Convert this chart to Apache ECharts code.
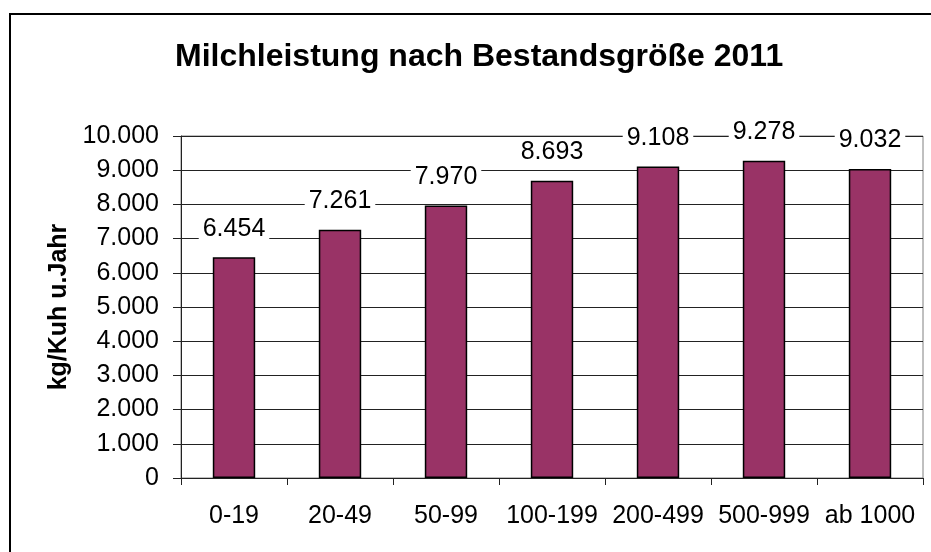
<!DOCTYPE html>
<html>
<head>
<meta charset="utf-8">
<script src="https://cdn.jsdelivr.net/npm/echarts@6/dist/echarts.min.js"></script>
<style>
html,body{margin:0;padding:0;background:#fff;}
#c{width:931px;height:552px;}
</style>
</head>
<body>
<div id="c"></div>
<script>
const categories = ['0-19', '20-49', '50-99', '100-199', '200-499', '500-999', 'ab 1000'];
const values = [6454, 7261, 7970, 8693, 9108, 9278, 9032];
const titleText = 'Milchleistung nach Bestandsgröße 2011';
const yAxisName = 'kg/Kuh u.Jahr';

function fmt(v) {
  return String(Math.round(v)).replace(/\B(?=(\d{3})+(?!\d))/g, '.');
}

const FONT = '"Liberation Sans", Arial, sans-serif';
const chart = echarts.init(document.getElementById('c'), null, {renderer: 'canvas'});
chart.setOption({
  animation: false,
  backgroundColor: '#fff',
  textStyle: {fontFamily: FONT, color: '#000'},
  title: {
    text: titleText,
    left: 170,
    top: 36,
    textStyle: {fontFamily: FONT, fontSize: 32, fontWeight: 'bold', color: '#000'}
  },
  graphic: [{
    type: 'rect',
    shape: {x: 10, y: 14, width: 1000, height: 1000},
    style: {fill: 'none', stroke: '#000', lineWidth: 2},
    silent: true
  }],
  grid: {
    left: 181, top: 136, right: 8, bottom: 74,
    show: true, borderColor: '#808080', borderWidth: 1,
    outerBoundsMode: 'none'
  },
  xAxis: {
    type: 'category',
    data: categories,
    axisLine: {lineStyle: {color: '#222', width: 1}},
    axisTick: {show: true, alignWithLabel: false, length: 7, lineStyle: {color: '#222'}},
    axisLabel: {fontFamily: FONT, fontSize: 25, color: '#000', margin: 26, interval: 0}
  },
  yAxis: {
    type: 'value',
    min: 0, max: 10000, interval: 1000,
    name: yAxisName,
    nameLocation: 'middle',
    nameGap: 108,
    nameTextStyle: {fontFamily: FONT, fontSize: 25, fontWeight: 'bold', color: '#000'},
    axisLine: {show: true, lineStyle: {color: '#222', width: 1}},
    axisTick: {show: true, length: 8, lineStyle: {color: '#222'}},
    splitLine: {show: true, lineStyle: {color: '#222', width: 1}},
    axisLabel: {fontFamily: FONT, fontSize: 25, color: '#000', margin: 22, formatter: fmt}
  },
  series: [{
    type: 'bar',
    data: values,
    barWidth: '40%',
    itemStyle: {color: '#993366', borderColor: '#000', borderWidth: 1.5},
    label: {
      show: true,
      position: 'top',
      distance: 14,
      formatter: p => fmt(p.value),
      fontFamily: FONT, fontSize: 25, color: '#000',
      backgroundColor: '#fff',
      padding: [2, 4]
    }
  }]
});
</script>
</body>
</html>
